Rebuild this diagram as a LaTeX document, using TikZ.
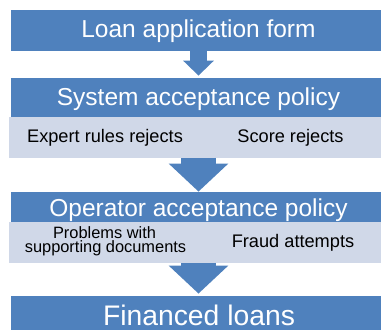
\documentclass[tikz,border=0pt]{standalone}
\usepackage{fontspec}
\setmainfont{Liberation Sans}
\usetikzlibrary{arrows.meta}
\definecolor{boxblue}{HTML}{4F81BD}
\definecolor{bandgray}{HTML}{D0D8E8}
\begin{document}
\begin{tikzpicture}[x=1pt, y=1pt,
	stage/.style = {fill=boxblue, minimum width=375pt, inner sep=0pt, anchor=south},
	band/.style = {fill=bandgray, minimum width=379pt, minimum height=41pt, inner sep=0pt, anchor=south},
	title/.style = {text=white, anchor=base, inner sep=0pt, font=\fontsize{24.5}{28}\selectfont},
	reject/.style = {anchor=base, inner sep=0pt, font=\fontsize{18.2}{20}\selectfont},
	flow/.style = {draw=boxblue, line width=17pt, -{Triangle[width=30pt, length=15pt]}},
	bigflow/.style = {draw=boxblue, line width=35pt, -{Triangle[width=58pt, length=28pt]}}]

			\useasboundingbox (0,0) rectangle (381,330);
			\clip (0,0) rectangle (381,330);

			\node[stage, minimum height=41pt] (form) at (198.5,279) {};
			\node[title] (formtext) at (198.5,292) {Loan application form};

			\node[stage, minimum height=39pt] (system) at (198.5,213) {};
			\node[title] (systemtext) at (198.5,224) {System acceptance policy};
			\node[band] (sysband) at (198.5,172) {};
			\node[reject] (rules) at (105,187) {Expert rules rejects};
			\node[reject] (score) at (290.5,187) {Score rejects};

			\node[stage, minimum height=30pt] (operator) at (198.5,108) {};
			\node[title] (operatortext) at (198.5,113) {Operator acceptance policy};
			\node[band] (opband) at (198.5,67) {};
			\node[reject, font=\fontsize{16.4}{15}\selectfont] (problems) at (104.5,92) {Problems with};
			\node[reject, font=\fontsize{16.4}{15}\selectfont] (supporting) at (105.5,77) {supporting documents};
			\node[reject] (fraud) at (293,82) {Fraud attempts};

			\node[stage, minimum height=44pt] (loans) at (198.5,-10) {};
			\node[title, font=\fontsize{28.3}{32}\selectfont] (loanstext) at (199,5) {Financed loans};

			\draw[flow] (form.south) -- ([yshift=2pt]system.north);
			\draw[bigflow] (sysband.south) -- (operator.north);
			\draw[bigflow] (opband.south) -- ([yshift=2pt]loans.north);
		\end{tikzpicture}
\end{document}
